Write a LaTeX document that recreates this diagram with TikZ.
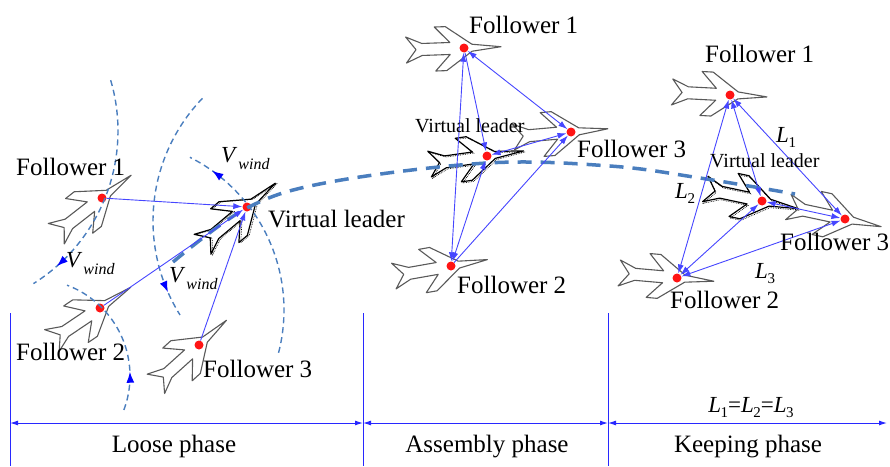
\documentclass[tikz,border=0pt]{standalone}
\usepackage{fontspec}
\setmainfont{Liberation Serif}
\usetikzlibrary{arrows.meta,decorations.markings}
\definecolor{windblue}{RGB}{74,126,190}
\definecolor{linkblue}{RGB}{70,70,255}
\definecolor{dimblue}{RGB}{40,40,255}
\definecolor{dotred}{RGB}{255,20,20}
\newcommand\Lsym[1]{\textit{L}\kern-0.5pt\raisebox{-5pt}{\fontsize{15}{15}\selectfont #1}}
\newcommand\Vwind{\textit{V}\kern1pt\raisebox{-7pt}{\fontsize{16}{16}\selectfont\itshape wind}}
\tikzset{
  jetpath/.style={insert path={(37,0) -- (8,3.5) -- (-18,22) -- (-29,22) -- (-14,6)
     -- (-42,6) -- (-58,13) -- (-48,0) -- (-58,-13) -- (-42,-6) -- (-14,-6)
     -- (-29,-22) -- (-18,-22) -- (8,-3.5) -- cycle}},
  fjet/.pic={\draw[black!65, line width=1.1pt, line join=round, jetpath];},
  ljet/.pic={\draw[black, line width=1.2pt, line join=round, jetpath];
             \draw[black, line width=0.7pt, densely dotted, shift={(1.3,1.3)}, jetpath];},
  dot/.style={circle, fill=dotred, inner sep=0pt, minimum size=9pt},
  lbl/.style={font=\fontsize{25}{30}\selectfont, inner sep=0pt},
  slbl/.style={font=\fontsize{20}{22}\selectfont, inner sep=0pt},
  mlbl/.style={font=\fontsize{23}{26}\selectfont, inner sep=0pt},
  link/.style={draw=linkblue, line width=0.9pt},
  tip/.style={-{Latex[length=9pt,width=6pt]}},
  tips/.style={{Latex[length=9pt,width=6pt]}-{Latex[length=9pt,width=6pt]}},
  wind/.style={draw=windblue, line width=1.4pt, dash pattern=on 6pt off 4pt},
  windarrow/.style={postaction={decorate, decoration={markings,
      mark=at position #1 with {\arrow[blue, solid]{Latex[length=11pt,width=8pt]}}}}},
  traj/.style={draw=windblue, line width=3.5pt, dash pattern=on 14pt off 9pt},
  dim/.style={draw=dimblue, line width=1pt},
  dimtips/.style={{Latex[length=8pt,width=5pt]}-{Latex[length=8pt,width=5pt]}},
}
\begin{document}
\begin{tikzpicture}[x=1pt,y=-1pt]
\useasboundingbox (0,0) rectangle (890,466);

% ---- formation positions (red dots) ----
\node[dot] (lF1) at (102,198) {};
\node[dot] (lF2) at (100,308) {};
\node[dot] (lF3) at (199,345) {};
\node[dot] (lVL) at (247,207) {};
\node[dot] (mF1) at (464,48) {};
\node[dot] (mVL) at (487,156) {};
\node[dot] (mF3) at (571,132) {};
\node[dot] (mF2) at (451,266) {};
\node[dot] (rF1) at (730,95) {};
\node[dot] (rVL) at (762,201) {};
\node[dot] (rF3) at (845,219) {};
\node[dot] (rF2) at (677,278) {};

% ---- aircraft ----
\pic[rotate=38] at (lF1) {fjet};
\pic[rotate=34] at (lF2) {fjet};
\pic[rotate=42] at (lF3) {fjet};
\pic[rotate=40] at (lVL) {ljet};
\pic[rotate=2]  at (mF1) {fjet};
\pic[rotate=8]  at (mVL) {ljet};
\pic[rotate=5]  at (mF3) {fjet};
\pic[rotate=10] at (mF2) {fjet};
\pic[rotate=-3] at (rF1) {fjet};
\pic[rotate=-12] at (rVL) {ljet};
\pic[rotate=-12] at (rF3) {fjet};
\pic[rotate=-5] at (rF2) {fjet};

% ---- wind disturbance arcs (circular) ----
\draw[wind, windarrow=0.875] plot[domain=0:1, samples=50, variable=\t]
  ({-62+180*cos(-16.4+74.4*\t)}, {131+180*sin(-16.4+74.4*\t)});
\draw[wind, windarrow=0.89] plot[domain=0:1, samples=50, variable=\t]
  ({330+177*cos(223.9-76*\t)}, {221+177*sin(223.9-76*\t)});
\draw[wind, windarrow=0.887] plot[domain=0:1, samples=50, variable=\t]
  ({113+171*cos(14.5-77.8*\t)}, {310+171*sin(14.5-77.8*\t)});
\draw[wind, windarrow=0.256] plot[domain=0:1, samples=50, variable=\t]
  ({33+97*cos(20.5-90*\t)}, {376+97*sin(20.5-90*\t)});

% ---- virtual leader trajectory ----
\draw[traj] plot[smooth, tension=0.6] coordinates
  {(173,262) (247,208) (330,182) (487,163) (610,166) (700,178) (795,194)};

% ---- loose phase links ----
\draw[link, tip] (lF1) -- (lVL);
\draw[link, tip] (lF2) -- (lVL);
\draw[link, tip] (lF3) -- (lVL);

% ---- assembly phase links ----
\draw[link, tips] (mF2) -- (mF1);
\draw[link, tip] (mF1) -- (mVL);
\draw[link, tips] (mF1) -- (mF3);
\draw[link, tips] (mVL) -- (mF3);
\draw[link, tips] (mF2) -- (mVL);
\draw[link, tip] (mF2) -- (mF3);

% ---- keeping phase links ----
\draw[link, tips] (rF2) -- (rF1);
\draw[link, tips] (rF1) -- (rVL);
\draw[link, tips] (rF1) -- (rF3);
\draw[link, tips] (rF2) -- (rVL);
\draw[link, tips] (rF2) -- (rF3);
\draw[link, tips] (rVL) -- (rF3);

% ---- labels ----
\node[lbl, anchor=base west] (tlF1) at (16,175) {Follower 1};
\node[lbl, anchor=base west] (tlF2) at (16,360) {Follower 2};
\node[lbl, anchor=base west] (tlF3) at (203,377) {Follower 3};
\node[lbl, anchor=base west] (tlVL) at (268,227) {Virtual leader};
\node[lbl, anchor=base west] (tmF1) at (469,33) {Follower 1};
\node[slbl, anchor=base west] (tmVL) at (415,132) {Virtual leader};
\node[lbl, anchor=base west] (tmF3) at (577,157) {Follower 3};
\node[lbl, anchor=base west] (tmF2) at (457,293) {Follower 2};
\node[lbl, anchor=base west] (trF1) at (705,62) {Follower 1};
\node[slbl, anchor=base west] (trVL) at (710,167) {Virtual leader};
\node[lbl, anchor=base west] (trF3) at (780,250) {Follower 3};
\node[lbl, anchor=base west] (trF2) at (670,308) {Follower 2};

\node[mlbl, anchor=base west] (w1) at (66,267) {\Vwind};
\node[mlbl, anchor=base west] (w2) at (169,282) {\Vwind};
\node[mlbl, anchor=base west] (w3) at (221,162) {\Vwind};

\node[mlbl, anchor=base west] (L1) at (776,142) {\Lsym{1}};
\node[mlbl, anchor=base west] (L2) at (675,198) {\Lsym{2}};
\node[mlbl, anchor=base west] (L3) at (755,278) {\Lsym{3}};

% ---- phase scale ----
\coordinate (d0) at (10,423);
\coordinate (d1) at (363,423);
\coordinate (d2) at (608,423);
\coordinate (d3) at (887,423);
\foreach \v/\x in {v0/10, v1/363, v2/608} {
  \coordinate (\v t) at (\x,313);
  \coordinate (\v b) at (\x,466);
  \draw[dim] (\v t) -- (\v b);
}
\draw[dim, dimtips] (d0) -- (d1);
\draw[dim, dimtips] (d1) -- (d2);
\draw[dim, dimtips] (d2) -- (d3);

\node[mlbl, anchor=base] (eq) at (751,412) {\Lsym{1}=\Lsym{2}=\Lsym{3}};
\node[lbl, anchor=base] (ph1) at (174,452) {Loose phase};
\node[lbl, anchor=base] (ph2) at (487,452) {Assembly phase};
\node[lbl, anchor=base] (ph3) at (748,452) {Keeping phase};
\end{tikzpicture}
\end{document}
